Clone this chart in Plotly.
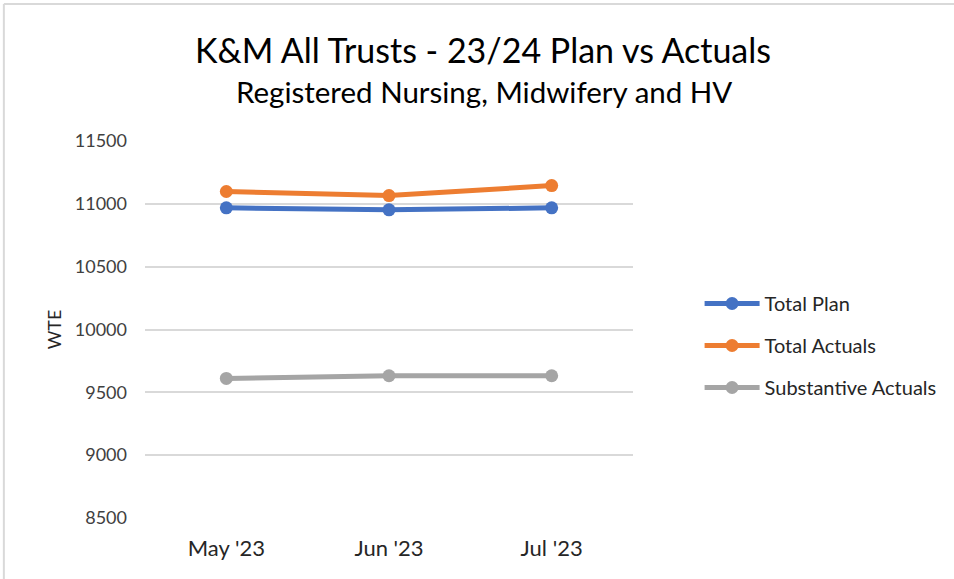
import plotly.graph_objects as go

months = ["May '23", "Jun '23", "Jul '23"]
total_plan = [10968, 10952, 10968]
total_actuals = [11098, 11066, 11145]
substantive_actuals = [9611, 9632, 9632]
y_ticks = [8500, 9000, 9500, 10000, 10500, 11000, 11500]

series = [
    ("Total Plan", total_plan, "#4472C4"),
    ("Total Actuals", total_actuals, "#ED7D31"),
    ("Substantive Actuals", substantive_actuals, "#A5A5A5"),
]

W, H = 954, 579
L, R, T, B = 145, 636, 141, 518
FONT = "Lato, sans-serif"

fig = go.Figure()
for name, vals, col in series:
    fig.add_trace(go.Scatter(
        x=months, y=vals, name=name, mode="lines+markers",
        line=dict(color=col, width=5),
        marker=dict(color=col, size=13),
        legendgroup=name,
    ))

def px(x):
    return (x - L) / (R - L)

def py(y):
    return (B - y) / (B - T)

fig.update_layout(
    width=W, height=H,
    margin=dict(l=L, r=W - R, t=T, b=H - B),
    paper_bgcolor="white", plot_bgcolor="white",
    font=dict(family=FONT, color="#404040"),
    showlegend=True,
    legend=dict(
        x=px(703), y=py(284), xanchor="left", yanchor="top",
        font=dict(size=20, color="#262626", family=FONT),
        tracegroupgap=13, itemwidth=55,
        bgcolor="rgba(0,0,0,0)",
    ),
    xaxis=dict(
        type="category", range=[-0.5, 2.5],
        showgrid=False, showline=False, zeroline=False, ticks="",
        tickfont=dict(size=22, color="#262626", family=FONT),
        ticklabelstandoff=15,
    ),
    yaxis=dict(
        range=[8500, 11500], tickvals=y_ticks,
        ticktext=[str(v) for v in y_ticks],
        showgrid=True, gridcolor="#D9D9D9", gridwidth=1.5,
        showline=False, zeroline=False, ticks="",
        tickfont=dict(size=18, color="#404040", family=FONT),
        ticklabelstandoff=17,
        title=dict(text="WTE", font=dict(size=18, color="#262626", family=FONT), standoff=8),
    ),
    annotations=[
        dict(text="K&M All Trusts - 23/24 Plan vs Actuals", xref="paper", yref="paper",
             x=px(485), y=py(49), xanchor="center", yanchor="middle", showarrow=False,
             font=dict(size=34, color="#000000", family=FONT)),
        dict(text="Registered Nursing, Midwifery and HV", xref="paper", yref="paper",
             x=px(486), y=py(91), xanchor="center", yanchor="middle", showarrow=False,
             font=dict(size=29.5, color="#000000", family=FONT)),
    ],
    shapes=[
        dict(type="line", xref="paper", yref="paper",
             x0=px(3), x1=px(W + 5), y0=py(4), y1=py(4),
             line=dict(color="#D9D9D9", width=2), layer="below"),
        dict(type="line", xref="paper", yref="paper",
             x0=px(3), x1=px(3), y0=py(4), y1=py(H + 5),
             line=dict(color="#D9D9D9", width=2), layer="below"),
    ],
)

fig.write_html(
    "out.html",
    config={"displayModeBar": False},
    post_script="document.body.style.margin='0';document.body.style.padding='0';",
)
